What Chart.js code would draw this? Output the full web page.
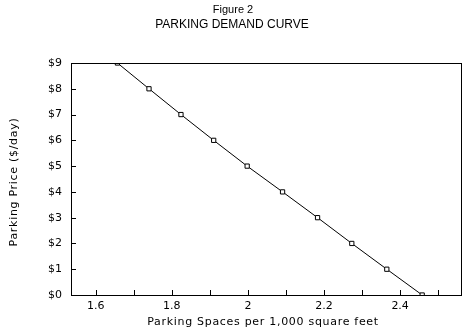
<!DOCTYPE html>
<html>
<head>
<meta charset="utf-8">
<script src="https://cdn.jsdelivr.net/npm/chart.js@4"></script>
<style>
  html, body { margin: 0; padding: 0; background: #fff; }
  #wrap { width: 468px; height: 331px; }
</style>
</head>
<body>
<div id="wrap"><canvas id="chart" width="468" height="331"></canvas></div>
<script>
// values
const prices = [9, 8, 7, 6, 5, 4, 3, 2, 1, 0];
const spaces = [1.657, 1.74, 1.824, 1.91, 1.998, 2.091, 2.183, 2.273, 2.365, 2.458];
const titleLines = ["Figure 2", "PARKING DEMAND CURVE"];
const xTitle = "Parking Spaces per 1,000 square feet";
const yTitle = "Parking Price ($/day)";

// frame, inside ticks and texts
const decor = {
  id: "decor",
  afterDraw(chart) {
    const ctx = chart.ctx;
    const a = chart.chartArea;
    const xs = chart.scales.x, ys = chart.scales.y;
    ctx.save();
    ctx.strokeStyle = "#000";
    ctx.lineWidth = 1;
    ctx.strokeRect(Math.round(a.left) + 0.5, Math.round(a.top) + 0.5,
      Math.round(a.right - a.left), Math.round(a.bottom - a.top));
    ctx.beginPath();
    xs.ticks.forEach(t => {
      const px = Math.round(xs.getPixelForValue(t.value)) + 0.5;
      ctx.moveTo(px, a.bottom);
      ctx.lineTo(px, a.bottom - 5);
    });
    ys.ticks.forEach(t => {
      const py = Math.round(ys.getPixelForValue(t.value)) + 0.5;
      ctx.moveTo(a.left, py);
      ctx.lineTo(a.left + 5, py);
    });
    ctx.stroke();

    ctx.fillStyle = "#000";
    ctx.textAlign = "center";
    ctx.textBaseline = "middle";
    ctx.font = "11px 'Liberation Sans', Arial, sans-serif";
    ctx.fillText(titleLines[0], 233, 10);
    ctx.font = "12px 'Liberation Sans', Arial, sans-serif";
    ctx.fillText(titleLines[1], 232, 25);

    ctx.font = "11px 'DejaVu Sans', sans-serif";
    ctx.letterSpacing = "0.7px";
    ctx.fillText(xTitle, 263, 322);
    ctx.translate(14, 182);
    ctx.rotate(-Math.PI / 2);
    ctx.fillText(yTitle, 0, 0);
    ctx.restore();
  }
};

new Chart(document.getElementById("chart").getContext("2d"), {
  type: "line",
  data: {
    datasets: [{
      data: spaces.map((s, i) => ({ x: s, y: prices[i] })),
      borderColor: "#000",
      borderWidth: 1,
      pointStyle: "rect",
      pointRadius: 3,
      pointBorderWidth: 1,
      pointBorderColor: "#000",
      pointBackgroundColor: "#fff",
      tension: 0
    }]
  },
  options: {
    responsive: false,
    animation: false,
    layout: { padding: { left: 0, right: 7, top: 63, bottom: 0 } },
    plugins: { legend: { display: false }, tooltip: { enabled: false } },
    scales: {
      x: {
        type: "linear",
        min: 1.535,
        max: 2.56,
        afterFit(s) { s.height = 36; },
        grid: { display: false, drawTicks: false },
        border: { display: false },
        ticks: {
          stepSize: 0.1,
          includeBounds: false,
          autoSkip: false,
          maxRotation: 0,
          padding: 5,
          color: "#000",
          font: { family: "'DejaVu Sans', sans-serif", size: 11 },
          callback: v => Math.round(v * 10) % 2 === 0 ? String(Math.round(v * 10) / 10) : ""
        }
      },
      y: {
        min: 0,
        max: 9,
        afterFit(s) { s.width = 71; },
        grid: { display: false, drawTicks: false },
        border: { display: false },
        ticks: {
          stepSize: 1,
          padding: 9,
          color: "#000",
          font: { family: "'DejaVu Sans', sans-serif", size: 11 },
          callback: v => "$" + v
        }
      }
    }
  },
  plugins: [decor]
});
</script>
</body>
</html>
